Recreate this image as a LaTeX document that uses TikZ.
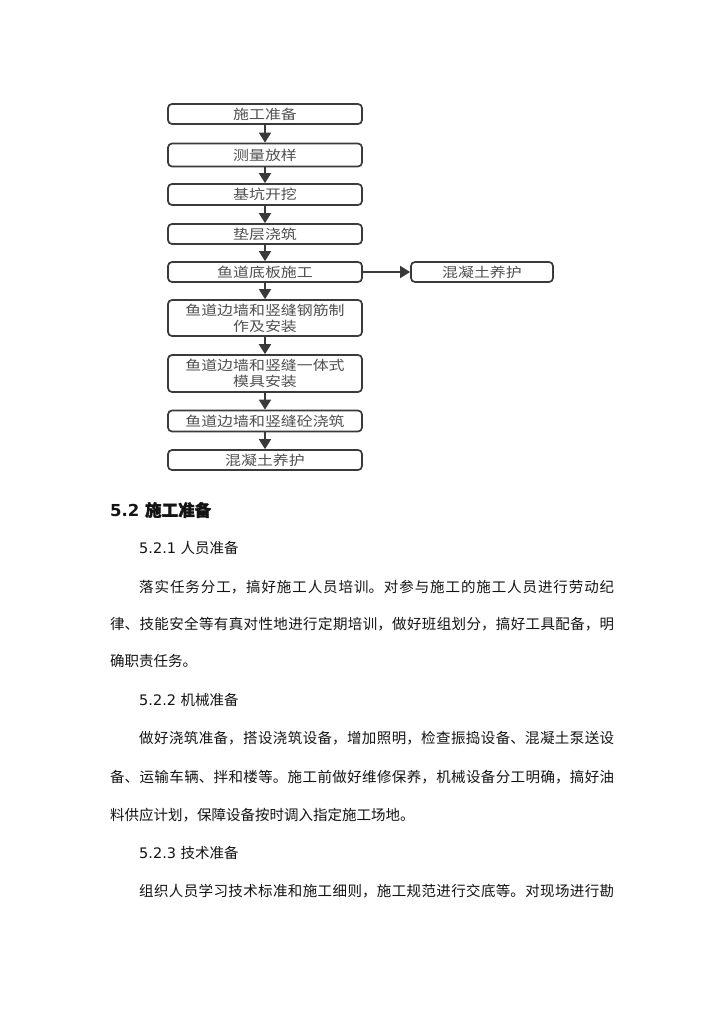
\documentclass[tikz,border=0pt]{standalone}
\usepackage{fontspec}
\setmainfont{DejaVu Sans}
\newfontfamily\cjk{Noto Sans CJK SC}
\newfontfamily\cjkbox[FakeStretch=1.18]{Noto Sans CJK SC}
\newfontfamily\cjkb[FakeBold=1.6]{Noto Sans CJK SC}
\usetikzlibrary{arrows.meta}
\definecolor{boxline}{HTML}{3A3A3A}
\definecolor{boxtext}{HTML}{505050}
\definecolor{bodytext}{HTML}{141414}
\tikzset{
  flowbox/.style={draw=boxline, line width=1.7pt, rounded corners=4pt, fill=white,
    inner sep=0pt, text=boxtext, font=\cjkbox\fontsize{13.5}{16}\selectfont, align=center},
  flowarrow/.style={draw=boxline, line width=1.7pt, -{Triangle[length=10pt,width=12pt]}},
  bodyline/.style={anchor=west, inner sep=0pt, text=bodytext, align=justify},
  plainline/.style={anchor=west, inner sep=0pt, text=bodytext},
}
\newcommand{\jtext}[1]{\cjk\fontsize{14.5}{18}\selectfont\XeTeXlinebreaklocale "zh"\XeTeXlinebreakskip=0pt plus 4pt\parfillskip=0pt\relax #1\par}
\begin{document}
\begin{tikzpicture}[x=1pt,y=-1pt]
\useasboundingbox (0,0) rectangle (724,1024);
\fill[white] (0,0) rectangle (724,1024);
% flow boxes
\node[flowbox, minimum width=194pt, minimum height=20pt] (b1) at (265,114) {施工准备};
\node[flowbox, minimum width=194pt, minimum height=23pt] (b2) at (265,155) {测量放样};
\node[flowbox, minimum width=194pt, minimum height=21pt] (b3) at (265,194.5) {基坑开挖};
\node[flowbox, minimum width=194pt, minimum height=20pt] (b4) at (265,234) {垫层浇筑};
\node[flowbox, minimum width=194pt, minimum height=20pt] (b5) at (265,272) {鱼道底板施工};
\node[flowbox, minimum width=194pt, minimum height=36pt] (b6) at (265,318) {鱼道边墙和竖缝钢筋制\\作及安装};
\node[flowbox, minimum width=194pt, minimum height=37pt] (b7) at (265,373.5) {鱼道边墙和竖缝一体式\\模具安装};
\node[flowbox, minimum width=194pt, minimum height=21pt] (b8) at (265,421) {鱼道边墙和竖缝砼浇筑};
\node[flowbox, minimum width=194pt, minimum height=20pt] (b9) at (265,460) {混凝土养护};
\node[flowbox, minimum width=142pt, minimum height=20pt] (r1) at (482,272) {混凝土养护};
\foreach \a/\b in {b1/b2,b2/b3,b3/b4,b4/b5,b5/b6,b6/b7,b7/b8,b8/b9}{
  \draw[flowarrow] (\a.south) -- (\b.north);
}
\draw[flowarrow] (b5.east) -- (r1.west);
% body text
\node[plainline, font=\bfseries\fontsize{16.5}{20}\selectfont] (h52) at (110,510) {5.2 {\cjkb 施工准备}};
\node[plainline, font=\fontsize{14.5}{18}\selectfont] (h521) at (139,548) {5.2.1 {\cjk 人员准备}};
\node[bodyline, text width=475pt] (p1) at (139,587) {\jtext{落实任务分工，搞好施工人员培训。对参与施工的施工人员进行劳动纪}};
\node[bodyline, text width=504pt] (p2) at (110,624) {\jtext{律、技能安全等有真对性地进行定期培训，做好班组划分，搞好工具配备，明}};
\node[plainline] (p3) at (110,661) {\cjk\fontsize{14.5}{18}\selectfont 确职责任务。};
\node[plainline, font=\fontsize{14.5}{18}\selectfont] (h522) at (139,700) {5.2.2 {\cjk 机械准备}};
\node[bodyline, text width=475pt] (p4) at (139,738) {\jtext{做好浇筑准备，搭设浇筑设备，增加照明，检查振捣设备、混凝土泵送设}};
\node[bodyline, text width=504pt] (p5) at (110,777) {\jtext{备、运输车辆、拌和楼等。施工前做好维修保养，机械设备分工明确，搞好油}};
\node[plainline] (p6) at (110,815) {\cjk\fontsize{14.5}{18}\selectfont 料供应计划，保障设备按时调入指定施工场地。};
\node[plainline, font=\fontsize{14.5}{18}\selectfont] (h523) at (139,853) {5.2.3 {\cjk 技术准备}};
\node[bodyline, text width=475pt] (p7) at (139,891) {\jtext{组织人员学习技术标准和施工细则，施工规范进行交底等。对现场进行勘}};
\end{tikzpicture}
\end{document}
